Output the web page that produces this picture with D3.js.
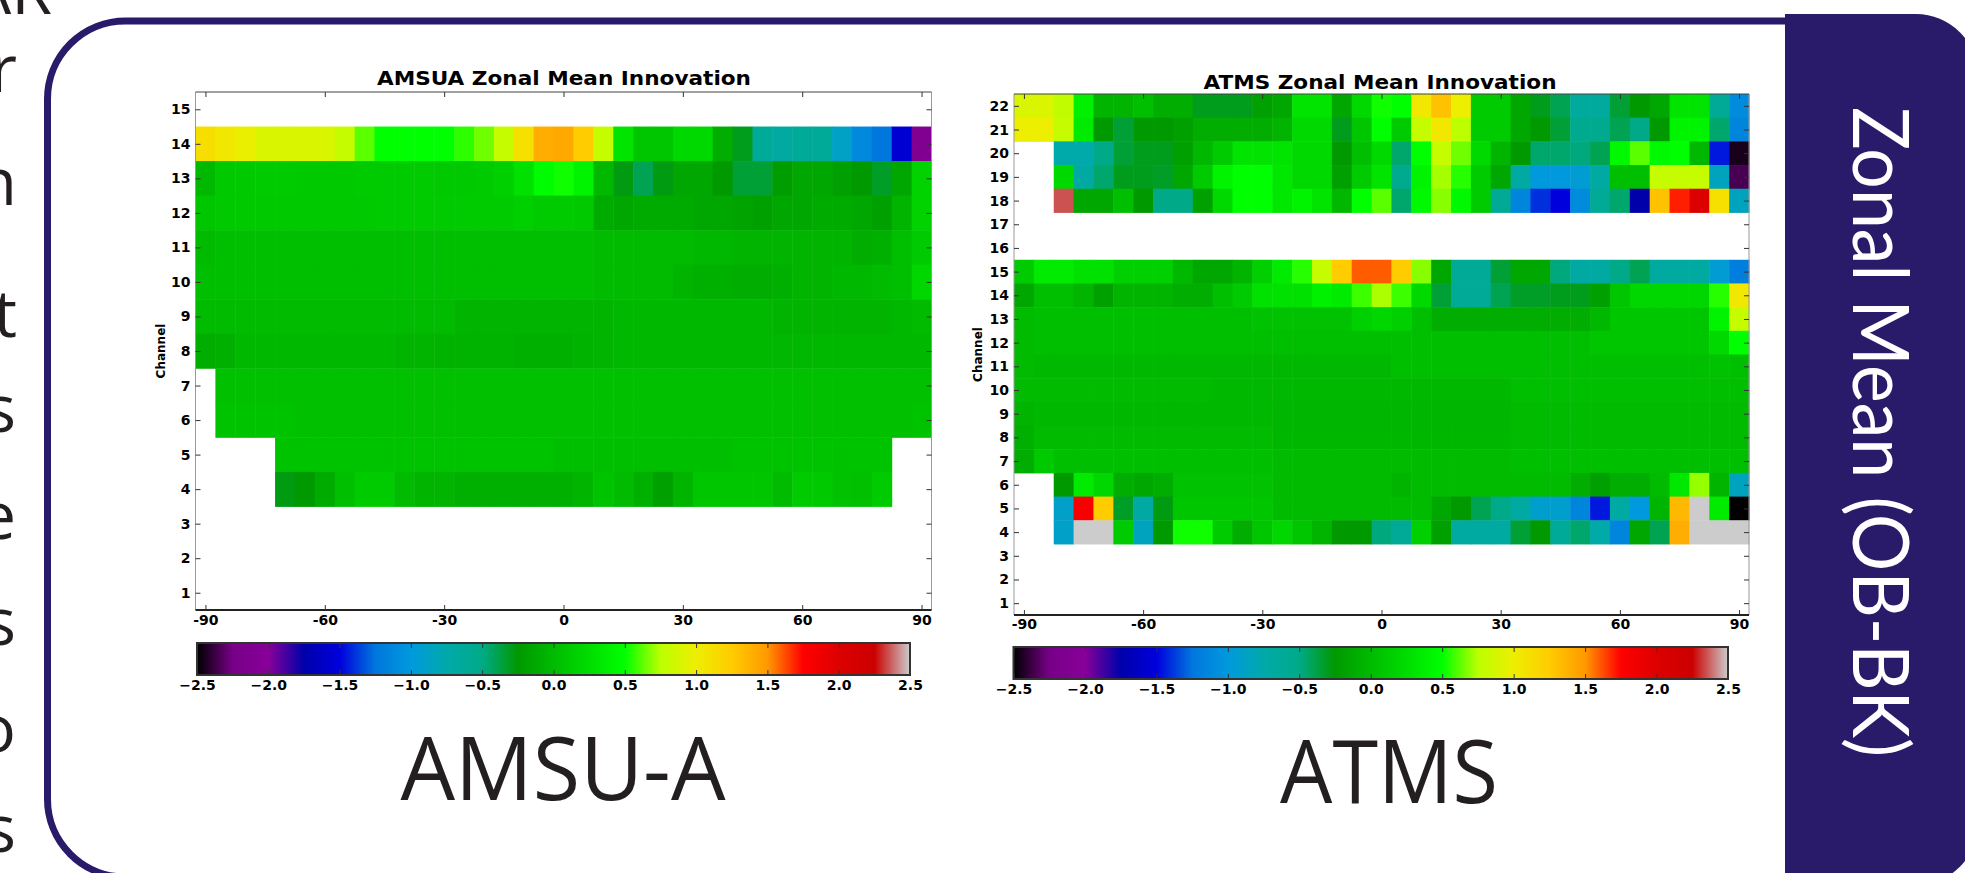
<!DOCTYPE html>
<html><head><meta charset="utf-8">
<script src="https://cdn.jsdelivr.net/npm/d3@7"></script>
<style>html,body{margin:0;padding:0;background:#fff;overflow:hidden;} svg{display:block;}</style>
</head><body>
<svg id="c" width="1965" height="873"></svg>
<script>
// ---------------- DATA ----------------
const lats = [-90,-85,-80,-75,-70,-65,-60,-55,-50,-45,-40,-35,-30,-25,-20,-15,-10,-5,0,5,10,15,20,25,30,35,40,45,50,55,60,65,70,75,80,85,90];
const amsuaChannels = [1,2,3,4,5,6,7,8,9,10,11,12,13,14,15];
const atmsChannels = [1,2,3,4,5,6,7,8,9,10,11,12,13,14,15,16,17,18,19,20,21,22];
const latTicks = [-90,-60,-30,0,30,60,90];
const cbarTicks = [-2.5,-2.0,-1.5,-1.0,-0.5,0.0,0.5,1.0,1.5,2.0,2.5];

// AMSU-A zonal mean innovation (OB-BK) per channel, one value per latitude bin
const amsuaCh14 = [1.12,1.05,0.98,0.9,0.9,0.9,0.9,0.8,0.62,0.5,0.5,0.5,0.5,0.56,0.65,0.8,1.1,1.4,1.42,1.25,0.8,0.3,0.08,0.08,0.22,0.22,-0.1,-0.3,-0.62,-0.68,-0.62,-0.62,-0.88,-1.12,-1.25,-1.55,-2.1];
const amsuaCh13 = [-0.02,0.1,0.1,0.12,0.12,0.1,0.1,0.1,0.12,0.12,0.12,0.12,0.1,0.1,0.12,0.15,0.28,0.48,0.52,0.42,-0.02,-0.28,-0.4,-0.28,-0.15,-0.15,-0.25,-0.35,-0.35,-0.22,-0.15,-0.15,-0.2,-0.25,-0.32,-0.15,0.18];
const amsuaCh12 = [0.08,0.1,0.1,0.1,0.1,0.1,0.1,0.1,0.1,0.12,0.12,0.12,0.12,0.12,0.12,0.12,0.15,0.12,0.12,0.1,-0.12,-0.15,-0.12,-0.12,-0.12,-0.15,-0.15,-0.18,-0.2,-0.15,-0.15,-0.12,-0.12,-0.15,-0.2,-0.05,0.18];
const amsuaCh11 = [0.0,0.02,0.02,0.02,0.02,0.02,0.02,0.02,0.02,0.02,0.02,0.02,0.02,0.02,0.02,0.02,0.02,0.02,0.02,0.02,0.0,0.0,0.0,0.0,0.0,-0.02,-0.02,-0.05,-0.05,-0.05,-0.05,-0.05,-0.05,-0.1,-0.08,0.02,0.12];
const amsuaCh10 = [0.02,0.02,0.02,0.02,0.02,0.02,0.02,0.02,0.02,0.02,0.02,0.02,0.02,0.02,0.02,0.02,0.02,0.02,0.02,0.02,0.0,0.0,0.0,0.0,-0.05,-0.08,-0.08,-0.1,-0.1,-0.08,-0.05,-0.05,-0.02,-0.02,0.0,0.02,0.2];
const amsuaCh9  = [0.0,0.0,0.0,0.0,0.0,0.0,0.0,0.0,0.0,0.0,0.0,0.0,0.0,-0.05,-0.05,-0.05,-0.05,-0.05,-0.05,-0.05,-0.05,-0.02,-0.02,-0.02,-0.02,-0.02,-0.02,-0.02,-0.02,-0.05,-0.05,-0.05,-0.05,-0.05,-0.05,-0.02,0.0];
const amsuaCh8  = [-0.1,-0.08,-0.02,-0.02,-0.02,-0.02,-0.02,-0.02,-0.02,-0.02,-0.05,-0.05,-0.06,-0.06,-0.06,-0.06,-0.08,-0.08,-0.08,-0.06,-0.05,-0.02,-0.02,-0.02,-0.02,-0.02,-0.02,-0.02,-0.02,-0.02,-0.02,-0.02,-0.02,-0.02,-0.02,-0.02,-0.02];
const amsuaCh7  = [null,0.04,0.04,0.04,0.04,0.04,0.04,0.04,0.04,0.04,0.04,0.04,0.04,0.04,0.04,0.04,0.04,0.04,0.04,0.04,0.04,0.04,0.04,0.04,0.04,0.04,0.04,0.04,0.04,0.04,0.04,0.04,0.04,0.04,0.04,0.04,0.04];
const amsuaCh6  = [null,0.06,0.06,0.06,0.06,0.04,0.04,0.04,0.04,0.04,0.04,0.04,0.04,0.04,0.04,0.04,0.04,0.04,0.04,0.04,0.04,0.04,0.04,0.04,0.04,0.04,0.04,0.04,0.04,0.04,0.04,0.04,0.04,0.04,0.04,0.04,0.06];
const amsuaCh5  = [null,null,null,null,0.06,0.06,0.06,0.06,0.06,0.06,0.06,0.06,0.06,0.06,0.06,0.06,0.06,0.06,0.03,0.03,0.03,0.03,0.03,0.03,0.03,0.03,0.03,0.06,0.06,0.06,0.06,0.06,0.06,0.06,0.06,null,null];
const amsuaCh4  = [null,null,null,null,-0.28,-0.25,-0.12,0.03,0.12,0.12,0.0,-0.05,-0.05,-0.08,-0.08,-0.08,-0.08,-0.08,-0.08,-0.05,0.06,0.0,-0.08,-0.2,-0.05,0.08,0.08,0.08,0.08,0.0,0.12,0.1,0.05,0.04,0.12,null,null];

// ATMS zonal mean innovation (OB-BK)
const atmsCh22 = [0.9,0.9,0.78,0.4,-0.05,-0.05,0.03,-0.1,-0.1,-0.3,-0.3,-0.3,-0.2,-0.15,0.3,0.3,-0.15,0.22,0.52,0.5,1.05,1.3,1.0,0.12,0.12,-0.15,-0.3,-0.4,-0.65,-0.65,-0.35,-0.25,-0.15,0.3,0.3,-0.6,-1.1];
const atmsCh21 = [1.0,1.0,0.8,0.35,-0.25,-0.35,-0.25,-0.25,-0.2,-0.1,-0.1,-0.1,-0.1,-0.05,0.22,0.22,-0.3,0.08,0.5,0.12,0.8,1.05,0.75,0.12,0.12,-0.15,-0.25,-0.35,-0.55,-0.55,-0.4,-0.5,-0.25,0.42,0.42,-0.45,-1.15];
const atmsCh20 = [null,null,-0.75,-0.75,-0.5,-0.35,-0.3,-0.3,-0.2,-0.02,0.12,0.3,0.3,0.3,0.22,0.22,-0.25,0.03,0.22,-0.45,0.5,0.8,0.65,0.22,-0.05,-0.25,-0.45,-0.45,-0.48,-0.4,0.45,0.62,0.45,0.5,-0.02,-1.45,-2.45];
const atmsCh19 = [null,null,0.22,-0.7,-0.45,-0.3,-0.3,-0.32,-0.15,0.12,0.42,0.5,0.5,0.32,0.22,0.22,-0.2,0.12,0.3,-0.55,0.42,0.72,0.55,0.12,-0.15,-0.7,-1.0,-1.0,-0.95,-0.7,0.03,0.03,0.8,0.8,0.8,-0.85,-2.35];
const atmsCh18 = [null,null,2.35,-0.15,-0.15,0.03,-0.25,-0.5,-0.5,-0.2,0.22,0.5,0.5,0.32,0.42,0.3,-0.02,0.5,0.62,-0.45,0.45,0.68,0.45,0.12,-0.6,-1.15,-1.4,-1.5,-1.1,-0.6,-0.45,-1.75,1.3,1.7,2.0,1.1,-0.85];
const atmsCh15 = [0.12,0.35,0.35,0.28,0.28,0.15,0.15,0.15,-0.02,-0.15,-0.15,-0.05,0.15,0.35,0.55,0.8,1.25,1.6,1.6,1.25,0.68,-0.15,-0.6,-0.6,-0.35,-0.15,-0.15,-0.48,-0.7,-0.7,-0.5,-0.4,-0.68,-0.68,-0.68,-0.95,-1.2];
const atmsCh14 = [-0.15,0.03,0.03,-0.05,-0.2,-0.05,-0.05,-0.05,-0.1,-0.1,0.03,0.12,0.28,0.28,0.28,0.4,0.35,0.58,0.73,0.58,0.22,-0.35,-0.6,-0.6,-0.4,-0.32,-0.32,-0.3,-0.3,-0.2,0.08,0.2,0.2,0.2,0.2,0.55,1.05];
const atmsCh13 = [0.0,0.03,0.03,0.03,0.03,0.03,0.03,0.03,0.03,0.03,0.03,0.03,0.05,0.05,0.05,0.05,0.05,0.15,0.2,0.15,0.03,-0.1,-0.1,-0.1,-0.1,-0.1,-0.1,-0.1,-0.1,-0.02,0.08,0.08,0.08,0.08,0.08,0.42,0.8];
const atmsCh12 = [0.0,0.02,0.02,0.02,0.02,0.02,0.02,0.02,0.02,0.02,0.02,0.02,0.02,0.02,0.02,0.02,0.02,0.02,0.02,0.02,0.02,0.02,0.02,0.02,0.02,0.02,0.02,0.02,0.02,0.08,0.08,0.08,0.08,0.08,0.08,0.22,0.5];
const atmsCh11 = [0.0,-0.02,-0.02,-0.02,-0.02,-0.02,-0.02,-0.02,-0.02,-0.02,-0.02,-0.02,-0.02,-0.02,-0.02,-0.02,-0.02,-0.02,-0.02,0.02,0.02,0.02,0.02,0.02,0.02,0.02,0.02,0.02,0.02,0.02,0.02,0.02,0.02,0.02,0.02,0.05,0.02];
const atmsCh10 = [0.0,0.0,0.0,0.0,0.0,0.0,0.0,0.0,0.0,0.0,-0.02,-0.02,-0.02,-0.02,-0.02,-0.02,-0.02,-0.02,-0.02,-0.02,-0.02,-0.02,-0.02,-0.02,-0.02,0.02,0.02,0.02,0.02,0.02,0.02,0.02,0.02,0.02,0.02,0.02,0.02];
const atmsCh9  = [-0.05,-0.02,-0.02,-0.02,-0.02,-0.02,-0.02,-0.02,-0.02,-0.02,-0.02,-0.02,-0.02,-0.04,-0.04,-0.04,-0.04,-0.04,-0.04,-0.04,-0.04,-0.04,-0.04,-0.04,-0.04,0.0,0.0,0.0,0.0,0.0,0.0,0.0,0.0,0.0,0.0,0.0,0.0];
const atmsCh8  = [-0.08,0.0,0.0,0.0,0.0,0.0,0.0,0.0,0.0,0.0,0.0,0.0,0.0,-0.03,-0.03,-0.03,-0.03,-0.03,-0.03,-0.03,-0.03,-0.03,-0.03,-0.03,-0.03,0.0,0.0,0.0,0.0,0.0,0.0,0.0,0.0,0.0,0.0,0.0,0.0];
const atmsCh7  = [-0.1,0.1,0.03,0.03,0.03,0.03,0.03,0.03,0.03,0.03,0.03,0.03,0.03,0.0,0.0,0.0,0.0,0.0,0.0,0.0,0.0,0.0,0.0,0.0,0.0,0.03,0.03,0.03,0.03,0.03,0.03,0.03,0.03,0.03,0.03,0.03,0.03];
const atmsCh6  = [null,null,-0.25,0.35,0.2,-0.1,-0.15,-0.1,0.05,0.05,0.05,0.05,0.05,0.0,0.0,0.0,0.0,0.0,0.0,-0.05,0.0,0.0,0.0,0.0,0.0,0.0,0.0,0.0,-0.1,-0.2,-0.1,-0.1,0.0,0.32,0.7,-0.05,-0.85];
const atmsCh5  = [null,null,-0.9,1.8,1.25,-0.32,-0.7,-0.28,0.08,0.08,0.08,0.08,0.08,0.0,0.0,0.0,0.0,0.0,0.0,0.0,0.0,-0.15,-0.25,-0.4,-0.5,-0.7,-0.92,-0.92,-1.15,-1.45,-0.7,-1.0,-0.05,1.35,2.5,0.35,-2.5];
const atmsCh4  = [null,null,-0.9,2.5,2.5,0.12,-0.85,-0.25,0.52,0.52,0.12,-0.1,0.08,0.2,0.08,-0.05,-0.25,-0.25,-0.48,-0.6,0.15,-0.2,-0.68,-0.68,-0.68,-0.35,-0.25,-0.62,-0.45,-0.72,-1.15,-0.15,-0.4,1.4,2.5,2.5,2.5];

// colormap (nipy_spectral) anchor points
const cmapPos = [0,0.05,0.1,0.15,0.2,0.25,0.3,0.35,0.4,0.45,0.5,0.55,0.6,0.65,0.7,0.75,0.8,0.85,0.9,0.95,1];
const cmapRGB = [[0,0,0],[0.4667,0,0.5333],[0.5333,0,0.6],[0,0,0.6667],[0,0,0.8667],[0,0.4667,0.8667],[0,0.6,0.8667],[0,0.6667,0.6667],[0,0.6667,0.5333],[0,0.6,0],[0,0.7333,0],[0,0.8667,0],[0,1,0],[0.7333,1,0],[0.9333,0.9333,0],[1,0.8,0],[1,0.6,0],[1,0,0],[0.8667,0,0],[0.8,0,0],[0.8,0.8,0.8]];

// ---------------- TABLES ----------------
const amsuaRows = [
  {ch:14, values:amsuaCh14},{ch:13, values:amsuaCh13},{ch:12, values:amsuaCh12},{ch:11, values:amsuaCh11},
  {ch:10, values:amsuaCh10},{ch:9, values:amsuaCh9},{ch:8, values:amsuaCh8},{ch:7, values:amsuaCh7},
  {ch:6, values:amsuaCh6},{ch:5, values:amsuaCh5},{ch:4, values:amsuaCh4}];
const atmsRows = [
  {ch:22, values:atmsCh22},{ch:21, values:atmsCh21},{ch:20, values:atmsCh20},{ch:19, values:atmsCh19},{ch:18, values:atmsCh18},
  {ch:15, values:atmsCh15},{ch:14, values:atmsCh14},{ch:13, values:atmsCh13},{ch:12, values:atmsCh12},{ch:11, values:atmsCh11},
  {ch:10, values:atmsCh10},{ch:9, values:atmsCh9},{ch:8, values:atmsCh8},{ch:7, values:atmsCh7},{ch:6, values:atmsCh6},
  {ch:5, values:atmsCh5},{ch:4, values:atmsCh4}];

// ---------------- DRAW ----------------
const svg = d3.select('#c');
const NAVY = '#2a1a6a';
const INK = '#231f20';
const norm = d3.scaleLinear().domain([-2.5, 2.5]).range([0, 1]).clamp(true);
const cmap = d3.scaleLinear().domain(cmapPos)
  .range(cmapRGB.map(c => d3.rgb(c[0]*255, c[1]*255, c[2]*255).toString()))
  .interpolate(d3.interpolateRgb);
const color = v => cmap(norm(v));

const defs = svg.append('defs');
const grad = defs.append('linearGradient').attr('id', 'cbgrad').attr('x1', '0%').attr('x2', '100%').attr('y1', '0%').attr('y2', '0%');
grad.selectAll('stop').data(cmapPos).join('stop')
  .attr('offset', d => (d*100) + '%')
  .attr('stop-color', (d, i) => d3.rgb(cmapRGB[i][0]*255, cmapRGB[i][1]*255, cmapRGB[i][2]*255).toString());

// slide frame
const fr = {l:47.5, t:21, b:877, r:1790, rad:78};
svg.append('path')
  .attr('d', `M${fr.r},${fr.t} H${fr.l+fr.rad} A${fr.rad},${fr.rad} 0 0 0 ${fr.l},${fr.t+fr.rad} V${fr.b-fr.rad} A${fr.rad},${fr.rad} 0 0 0 ${fr.l+fr.rad},${fr.b} H${fr.r}`)
  .attr('fill', 'none').attr('stroke', NAVY).attr('stroke-width', 7);

// right panel
const pn = {l:1785, t:14, r:1978, b:885, rad:62};
svg.append('path')
  .attr('d', `M${pn.l},${pn.t} H${pn.r-pn.rad} A${pn.rad},${pn.rad} 0 0 1 ${pn.r},${pn.t+pn.rad} V${pn.b-pn.rad} A${pn.rad},${pn.rad} 0 0 1 ${pn.r-pn.rad},${pn.b} H${pn.l} Z`)
  .attr('fill', NAVY);
svg.append('text')
  .attr('transform', 'translate(1853,432) rotate(90)')
  .attr('text-anchor', 'middle')
  .attr('font-family', 'Lato, "Open Sans", sans-serif')
  .attr('font-size', 78)
  .attr('fill', '#ffffff')
  .attr('textLength', 650).attr('lengthAdjust', 'spacingAndGlyphs')
  .text('Zonal Mean (OB-BK)');

// clipped letters at the far left (neighbouring slide text, cut by the page edge)
const leftGlyphs = [
  {t:'AR', y:14, x:52}, {t:'r', y:92, x:17}, {t:'n', y:205, x:17}, {t:'t', y:337, x:17},
  {t:'s', y:432, x:16}, {t:'e', y:539, x:16}, {t:'s', y:645, x:16}, {t:'o', y:752, x:16}, {t:'s', y:852, x:16}];
svg.append('g').selectAll('text').data(leftGlyphs).join('text')
  .attr('x', d => d.x).attr('y', d => d.y)
  .attr('text-anchor', 'end')
  .attr('font-family', '"Open Sans", Lato, sans-serif')
  .attr('font-size', 66).attr('fill', INK)
  .text(d => d.t);

function styleAxis(sel, fs) {
  sel.select('.domain').remove();
  sel.selectAll('line').attr('stroke', '#333').attr('stroke-width', 1);
  sel.selectAll('text')
    .attr('font-family', '"DejaVu Sans", sans-serif')
    .attr('font-weight', 'bold')
    .attr('font-size', fs).attr('fill', '#000');
  sel.attr('font-family', null).attr('font-size', null);
}

function panel(o) {
  const x = d3.scaleLinear().domain([-92.5, 92.5]).range([o.left, o.right]);
  const y = d3.scaleLinear().domain([0.5, o.channels.length + 0.5]).range([o.bottom, o.top]);
  const g = svg.append('g');

  const cells = [];
  o.rows.forEach(r => r.values.forEach((v, i) => { if (v !== null) cells.push({ch:r.ch, lat:lats[i], v}); }));
  g.append('g').selectAll('rect').data(cells).join('rect')
    .attr('x', d => x(d.lat - 2.5))
    .attr('y', d => y(d.ch + 0.5))
    .attr('width', d => x(d.lat + 2.5) - x(d.lat - 2.5) + 0.5)
    .attr('height', d => y(d.ch - 0.5) - y(d.ch + 0.5) + 0.5)
    .attr('fill', d => color(d.v));

  // spines
  g.append('line').attr('x1', o.left).attr('x2', o.left).attr('y1', o.top).attr('y2', o.bottom).attr('stroke', '#999').attr('stroke-width', 1);
  g.append('line').attr('x1', o.right).attr('x2', o.right).attr('y1', o.top).attr('y2', o.bottom).attr('stroke', '#999').attr('stroke-width', 1);
  g.append('line').attr('x1', o.left).attr('x2', o.right).attr('y1', o.top).attr('y2', o.top).attr('stroke', '#444').attr('stroke-width', 1.2);
  g.append('line').attr('x1', o.left).attr('x2', o.right).attr('y1', o.bottom).attr('y2', o.bottom).attr('stroke', '#222').attr('stroke-width', 2);

  // axes
  g.append('g').attr('transform', `translate(${o.left},0)`)
    .call(d3.axisLeft(y).tickValues(o.channels).tickSize(-5).tickPadding(5).tickFormat(d => String(d)))
    .call(s => styleAxis(s, 14));
  g.append('g').attr('transform', `translate(${o.right},0)`)
    .call(d3.axisRight(y).tickValues(o.channels).tickSize(-5).tickFormat(''))
    .call(s => styleAxis(s, 14));
  g.append('g').attr('transform', `translate(0,${o.bottom})`)
    .call(d3.axisBottom(x).tickValues(latTicks).tickSize(-5).tickPadding(o.xPad).tickFormat(d => String(d)))
    .call(s => styleAxis(s, 14));
  g.append('g').attr('transform', `translate(0,${o.top})`)
    .call(d3.axisTop(x).tickValues(latTicks).tickSize(-5).tickFormat(''))
    .call(s => styleAxis(s, 14));

  // title
  g.append('text').attr('x', o.titleX).attr('y', o.titleY).attr('text-anchor', 'middle')
    .attr('font-family', '"DejaVu Sans", sans-serif').attr('font-weight', 'bold').attr('font-size', 20)
    .attr('textLength', o.titleLen).attr('lengthAdjust', 'spacingAndGlyphs')
    .text(o.title);
  // y label
  g.append('text').attr('transform', `translate(${o.ylabX},${(o.top + o.bottom) / 2}) rotate(-90)`)
    .attr('text-anchor', 'middle').attr('dy', '0.35em')
    .attr('font-family', '"DejaVu Sans", sans-serif').attr('font-weight', 'bold').attr('font-size', 12)
    .text('Channel');

  // colorbar
  const cb = d3.scaleLinear().domain([-2.5, 2.5]).range([o.cbLeft, o.cbRight]);
  g.append('rect').attr('x', o.cbLeft).attr('y', o.cbTop).attr('width', o.cbRight - o.cbLeft).attr('height', o.cbBottom - o.cbTop)
    .attr('fill', 'url(#cbgrad)');
  g.append('g').attr('transform', `translate(0,${o.cbBottom})`)
    .call(d3.axisBottom(cb).tickValues(cbarTicks).tickSize(-5).tickPadding(5).tickFormat(d3.format('.1f')))
    .call(s => styleAxis(s, 14));
  g.append('g').attr('transform', `translate(0,${o.cbTop})`)
    .call(d3.axisTop(cb).tickValues(cbarTicks).tickSize(-5).tickFormat(''))
    .call(s => styleAxis(s, 14));
  g.append('rect').attr('x', o.cbLeft).attr('y', o.cbTop).attr('width', o.cbRight - o.cbLeft).attr('height', o.cbBottom - o.cbTop)
    .attr('fill', 'none').attr('stroke', '#333').attr('stroke-width', 2);

  // instrument label
  g.append('text').attr('x', o.bigX).attr('y', o.bigY).attr('text-anchor', 'middle')
    .attr('font-family', '"Open Sans", Lato, sans-serif').attr('font-size', 87).attr('fill', INK)
    .attr('textLength', o.bigLen).attr('lengthAdjust', 'spacingAndGlyphs')
    .text(o.big);
}

panel({
  rows: amsuaRows, channels: amsuaChannels,
  left: 195.5, right: 931.5, top: 92, bottom: 610, xPad: 5,
  title: 'AMSUA Zonal Mean Innovation', titleX: 564, titleY: 85, titleLen: 374,
  ylabX: 161,
  cbLeft: 197, cbRight: 910, cbTop: 643, cbBottom: 675,
  big: 'AMSU-A', bigX: 563, bigY: 800, bigLen: 325
});
panel({
  rows: atmsRows, channels: atmsChannels,
  left: 1014, right: 1749, top: 94, bottom: 615, xPad: 4,
  title: 'ATMS Zonal Mean Innovation', titleX: 1380, titleY: 89, titleLen: 353,
  ylabX: 978,
  cbLeft: 1013.5, cbRight: 1728, cbTop: 647, cbBottom: 679,
  big: 'ATMS', bigX: 1389, bigY: 803, bigLen: 218
});
</script>
</body></html>
